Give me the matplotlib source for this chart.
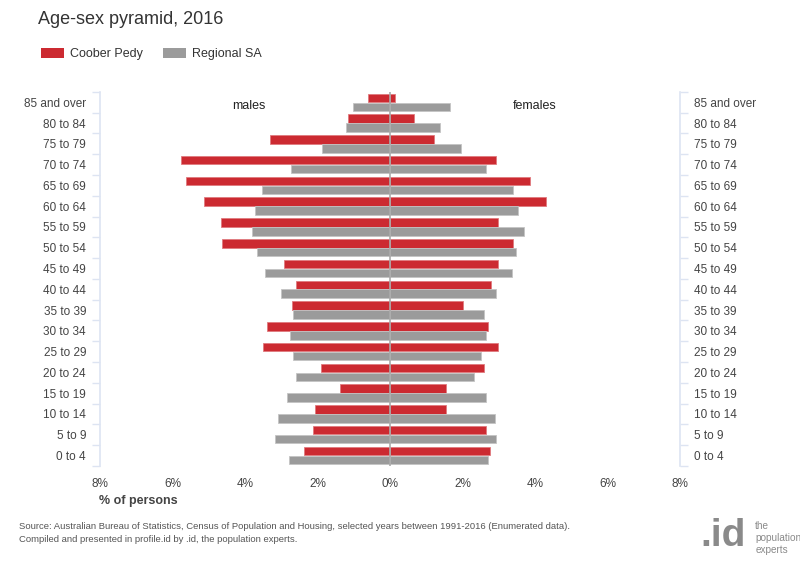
import matplotlib
matplotlib.use("Agg")
import matplotlib.pyplot as plt
from matplotlib.patches import Patch
import numpy as np

plt.rcParams['font.family'] = ['Liberation Sans', 'DejaVu Sans']

# age groups, bottom to top
ages = ["0 to 4", "5 to 9", "10 to 14", "15 to 19", "20 to 24", "25 to 29",
        "30 to 34", "35 to 39", "40 to 44", "45 to 49", "50 to 54", "55 to 59",
        "60 to 64", "65 to 69", "70 to 74", "75 to 79", "80 to 84", "85 and over"]

# % of persons
cp_males = [2.36, 2.12, 2.07, 1.37, 1.90, 3.50, 3.40, 2.69, 2.59, 2.93,
            4.63, 4.67, 5.14, 5.64, 5.77, 3.30, 1.17, 0.62]
cp_females = [2.76, 2.65, 1.55, 1.55, 2.60, 2.99, 2.70, 2.02, 2.78, 2.99,
              3.40, 2.99, 4.31, 3.86, 2.92, 1.22, 0.65, 0.14]
sa_males = [2.79, 3.16, 3.09, 2.85, 2.59, 2.67, 2.75, 2.67, 3.01, 3.45,
            3.66, 3.82, 3.73, 3.53, 2.72, 1.87, 1.21, 1.03]
sa_females = [2.69, 2.93, 2.90, 2.65, 2.31, 2.52, 2.65, 2.60, 2.93, 3.36,
              3.48, 3.69, 3.53, 3.40, 2.64, 1.95, 1.37, 1.66]

xticks = [-8, -6, -4, -2, 0, 2, 4, 6, 8]
xtick_labels = ["8%", "6%", "4%", "2%", "0%", "2%", "4%", "6%", "8%"]

RED = "#cc2a31"
GREY = "#9b9b9b"
AXIS_BLUE = "#dde4f2"

fig = plt.figure(figsize=(8, 5.64), dpi=100)
ax = fig.add_axes([0.125, 0.174, 0.725, 0.663])

y = np.arange(len(ages))
off, h = 0.215, 0.41
ax.barh(y + off, [-v for v in cp_males], height=h, color=RED, edgecolor="#e07a7e", linewidth=0.6)
ax.barh(y + off, cp_females, height=h, color=RED, edgecolor="#e07a7e", linewidth=0.6)
ax.barh(y - off, [-v for v in sa_males], height=h, color=GREY, edgecolor="#c4c4c4", linewidth=0.6)
ax.barh(y - off, sa_females, height=h, color=GREY, edgecolor="#c4c4c4", linewidth=0.6)

ax.axvline(0, color="#aaaaaa", linewidth=1.2, zorder=3)

ax.set_xlim(-8, 8)
ax.set_ylim(-0.5, len(ages) - 0.5)

ax.set_xticks(xticks)
ax.set_xticklabels(xtick_labels)
ax.tick_params(axis="x", length=0, pad=9, labelsize=8.5, labelcolor="#444444")

ax.set_yticks(y)
ax.set_yticklabels(ages)
ax.set_yticks(np.arange(-0.5, len(ages)), minor=True)
ax.tick_params(axis="y", which="major", length=0, pad=10, labelsize=8.5,
               labelcolor="#444444", labelleft=True, labelright=True)
ax.tick_params(axis="y", which="minor", length=6, width=1, color=AXIS_BLUE,
               left=True, right=True)

for side in ["top", "bottom"]:
    ax.spines[side].set_visible(False)
for side in ["left", "right"]:
    ax.spines[side].set_color(AXIS_BLUE)
    ax.spines[side].set_linewidth(1.2)

ax.text(-3.9, 16.8, "males", ha="center", va="center", fontsize=9, color="#222222")
ax.text(4.0, 16.8, "females", ha="center", va="center", fontsize=9, color="#222222")

fig.text(0.173, 0.111, "% of persons", ha="center", va="center", fontsize=9,
         fontweight="bold", color="#444444")

fig.text(0.048, 0.966, "Age-sex pyramid, 2016", ha="left", va="center", fontsize=13, color="#333333")

handles = [Patch(facecolor=RED, label="Coober Pedy"), Patch(facecolor=GREY, label="Regional SA")]
fig.legend(handles=handles, loc="center left", bbox_to_anchor=(0.037, 0.904), ncol=2,
           frameon=False, fontsize=9, handlelength=1.85, handleheight=0.9,
           columnspacing=1.6, handletextpad=0.48, labelcolor="#333333")

fig.text(0.024, 0.055, "Source: Australian Bureau of Statistics, Census of Population and Housing, "
         "selected years between 1991-2016 (Enumerated data).\n"
         "Compiled and presented in profile.id by .id, the population experts.",
         ha="left", va="center", fontsize=6.8, color="#555555", linespacing=1.6)

# logo
fig.text(0.876, 0.050, ".id", ha="left", va="center", fontsize=28, fontweight="bold", color="#8a8a8a")
fig.text(0.944, 0.046, "the\npopulation\nexperts", ha="left", va="center", fontsize=7.2,
         color="#8a8a8a", linespacing=1.2)

fig.savefig("out.png", dpi=100)
